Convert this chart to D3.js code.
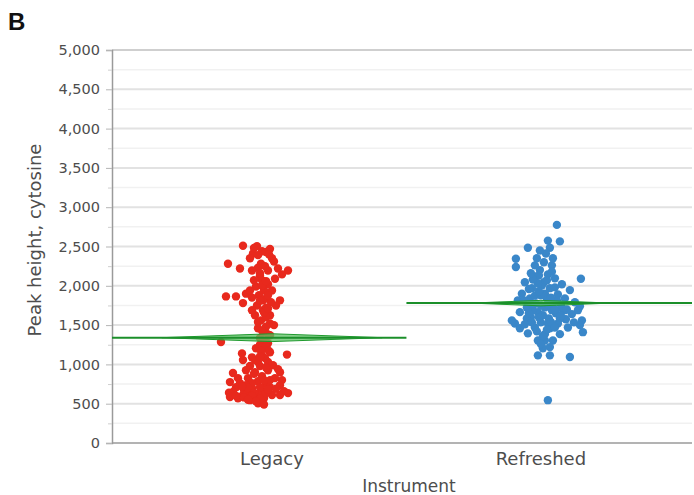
<!DOCTYPE html>
<html>
<head>
<meta charset="utf-8">
<script src="https://cdn.jsdelivr.net/npm/d3@7"></script>
<style>
  html, body { margin: 0; padding: 0; background: #fff; }
  svg { display: block; font-family: 'DejaVu Sans', sans-serif; }
</style>
</head>
<body>
<svg id="chart" width="694" height="495"></svg>
<script>
// Peak height of cytosine by instrument (JMP-style one-way plot with means diamonds)

const categories = ['Legacy', 'Refreshed']

// Legacy instrument: peak heights and horizontal jitter (unitless, -50..50)
const legacyValues = [
  2510, 2505, 2470, 2440, 2410, 2350, 2280, 2220, 2195, 2145, 2280, 2230, 2090, 2020,
  1865, 1865, 1900, 1780, 1815, 2130, 2070, 1990, 1940, 1880, 1840, 1750, 1690, 1625,
  1625, 1560, 1520, 1460, 1410, 1335, 1270, 1205, 2350, 2195, 2195, 2220, 1940, 1750,
  1690, 1500, 1720, 2070, 1790, 1815, 2390, 2430, 2310, 1940, 1370, 1285, 1115,
  1140, 1125, 1080, 1055, 990, 1030, 980, 925, 890, 900, 850, 900, 825, 775, 800, 760,
  785, 750, 710, 735, 710, 700, 675, 650, 660, 635, 610, 610, 600, 570, 570, 545, 505,
  620, 825, 980, 760, 635, 640, 660, 710, 800, 925, 825, 1055, 1030, 1205, 1155, 735,
  620, 490, 585, 610,
  1480, 1430, 1380, 1300, 1250, 1230, 1170, 1170, 1600, 1540, 1660, 1810, 1880, 2000,
  2060, 2160, 2250, 2400, 2480, 1850, 1710,
  880, 800, 700, 720, 560, 640, 680, 600, 580, 530, 960, 1090, 1100, 940, 690, 600, 550
]
const legacyJitter = [
  -29, -15, -2, -10, -19, -22, -44, -32, 16, 10, -11, -14, 3, -4,
  -46, -36, -26, -29, 8, -12, -10, -16, -8, -13, -6, -15, -9, -2,
  -17, -11, -2, -14, -7, -12, -4, -16, 0, -20, -4, 6, 0, 4,
  -20, 2, -6, -18, -1, -9, -14, -6, 2, -22, -2, -51, -10,
  -30, 15, -7, -29, 1, -14, -22, -4, -39, -17, -10, 8, -24, -42, 10, -32,
  -14, -6, -2, 8, -36, -20, -28, -39, -10, 16, 0, -29, -16, -8, -34, -22, -14,
  -25, 3, -12, -20, -6, -43, 12, -12, -2, -26, -34, -17, -4, -9, -2, -26,
  -14, -8, -42, 8,
  -6, -10, -4, -8, -12, -6, -3, -11, -6, -14, -8, -12, -4, -10,
  -6, -12, -7, -3, -18, -20, -4,
  -18, -8, -24, -30, -12, -18, -4, -20, -28, -16, -6, -20, -12, 6, 4, -36, -24
]

// Refreshed instrument
const refreshedValues = [
  2775, 2575, 2565, 2485, 2485, 2350, 2345, 2240, 2410, 2300, 2260, 2200, 2145, 2120,
  2095, 2090, 2045, 2045, 2020, 1970, 1970, 1945, 1900, 1900, 1890, 1840, 1840, 1840,
  1815, 1775, 1775, 1790, 1725, 1725, 1715, 1740, 1665, 1665, 1650, 1640, 1600, 1585,
  1575, 1520, 1535, 1520, 1560, 1460, 1470, 1460, 1470, 1410, 1395, 1385, 1385, 1305,
  1305, 1220, 1115, 1115, 1095, 545, 2005, 1875, 1690, 1625, 1585, 1585, 1900, 1815,
  1690, 1750, 1690, 1520, 1535, 1690, 1815, 2070, 2030, 1980, 1305, 1205, 1500, 1535,
  1560, 2260, 2450, 2350,
  1880, 1760, 1760, 1700, 1600, 1650, 1620, 1540, 1420, 1440, 1470, 1510, 1930, 1850,
  1960, 1760, 1700, 1360, 1260, 2130, 2080, 2180, 2160
]
const refreshedJitter = [
  16, 7, 19, -13, 9, -4, -25, -25, 5, 3, 11, -1, 7, -5,
  14, 40, -16, 3, 21, -9, 9, 29, -19, -1, 17, -11, 6, 24,
  -23, -5, 12, 34, -14, 4, 21, 39, -21, -3, 15, 31, -10, 8,
  25, -26, 0, 17, 41, -21, -6, 9, 27, 42, -13, 4, 19, -3,
  12, 9, -3, 9, 29, 7, 1, -6, 11, 2, 19, -14, 4, 16,
  -8, 0, 24, 7, -9, 37, -17, 6, -3, 14, 4, 2, 39, 33,
  -29, -6, -1, 12,
  0, 8, -8, 14, -2, -12, 20, 10, -4, 6, 14, -16, -2, 10,
  -12, 20, 26, 2, 0, -2, -8, 11, -10
]

// Group means and 95% confidence limits (means diamonds)
const means = [1340, 1780]
const ciLow = [1290, 1745]
const ciHigh = [1390, 1815]

const yTicks = [0, 500, 1000, 1500, 2000, 2500, 3000, 3500, 4000, 4500, 5000]
const yMinorTicks = [250, 750, 1250, 1750, 2250, 2750, 3250, 3750, 4250, 4750]

const colors = ['#e8291d', '#3a87c9']
const diamondHalfWidth = [0.41, 0.26]

const plot = { left: 112, right: 692, top: 50, bottom: 443 }

const svg = d3.select('#chart')

const y = d3.scaleLinear().domain([0, 5000]).range([plot.bottom, plot.top])
const x = d3.scaleLinear().domain([-0.595, 1.562]).range([plot.left, plot.right])
const jitter = d3.scaleLinear().domain([-50, 50]).range([-0.186, 0.186])

// Gridlines
svg.append('g')
  .selectAll('line.minor')
  .data(yMinorTicks)
  .enter()
  .append('line')
  .attr('x1', plot.left).attr('x2', plot.right)
  .attr('y1', d => y(d)).attr('y2', d => y(d))
  .attr('stroke', '#f1f1f1')
  .attr('stroke-width', 1.5)

svg.append('g')
  .selectAll('line.major')
  .data(yTicks.slice(1))
  .enter()
  .append('line')
  .attr('x1', plot.left).attr('x2', plot.right)
  .attr('y1', d => y(d)).attr('y2', d => y(d))
  .attr('stroke', d => d === 5000 ? '#cfcfcf' : '#e2e2e2')
  .attr('stroke-width', 2)

// Y axis
const yAxis = svg.append('g')
  .attr('transform', `translate(${plot.left},0)`)
  .call(d3.axisLeft(y).tickValues(yTicks).tickSize(6).tickPadding(6).tickFormat(d3.format(',')))
yAxis.select('.domain').attr('stroke', '#9a9a9a').attr('stroke-width', 1.5)
yAxis.selectAll('.tick line').attr('stroke', '#b5b5b5')
yAxis.selectAll('.tick text')
  .attr('fill', '#4d4d4d')
  .style('font-size', '14.5px')
  .style('font-family', "'DejaVu Sans', sans-serif")

svg.append('g')
  .attr('transform', `translate(${plot.left},0)`)
  .call(d3.axisLeft(y).tickValues(yMinorTicks).tickSize(4).tickFormat(''))
  .call(g => g.select('.domain').remove())
  .selectAll('.tick line').attr('stroke', '#cfcfcf')

// X axis
svg.append('line')
  .attr('x1', plot.left).attr('x2', plot.right)
  .attr('y1', plot.bottom).attr('y2', plot.bottom)
  .attr('stroke', '#9a9a9a')
  .attr('stroke-width', 1.5)

svg.selectAll('.cat-label')
  .data(categories)
  .enter()
  .append('text')
  .classed('cat-label', true)
  .attr('x', (d, i) => x(i))
  .attr('y', 465)
  .attr('text-anchor', 'middle')
  .attr('fill', '#4d4d4d')
  .style('font-size', '18px')
  .text(d => d)

// Points
const groups = [
  { values: legacyValues, jit: legacyJitter },
  { values: refreshedValues, jit: refreshedJitter }
]
groups.forEach((g, i) => {
  svg.append('g')
    .selectAll('circle')
    .data(g.values)
    .enter()
    .append('circle')
    .attr('cx', (d, k) => x(i + jitter(g.jit[k])))
    .attr('cy', d => y(d))
    .attr('r', 4.2)
    .attr('fill', colors[i])
})

// Means diamonds and mean lines
const lineExtent = [[-0.595, 0.5], [0.5, 1.562]]
categories.forEach((c, i) => {
  const w = diamondHalfWidth[i]
  const pts = [
    [x(i - w), y(means[i])],
    [x(i), y(ciHigh[i])],
    [x(i + w), y(means[i])],
    [x(i), y(ciLow[i])]
  ]
  svg.append('polygon')
    .attr('points', pts.map(p => p.join(',')).join(' '))
    .attr('fill', '#5cc063')
    .attr('fill-opacity', 0.75)
    .attr('stroke', '#1f9a2e')
    .attr('stroke-width', 1)
  svg.append('line')
    .attr('x1', x(lineExtent[i][0])).attr('x2', x(lineExtent[i][1]))
    .attr('y1', y(means[i])).attr('y2', y(means[i]))
    .attr('stroke', '#1b8f2a')
    .attr('stroke-width', 2)
})

// Axis titles
svg.append('text')
  .attr('transform', 'translate(41,240) rotate(-90)')
  .attr('text-anchor', 'middle')
  .attr('fill', '#4d4d4d')
  .style('font-size', '18px')
  .text('Peak height, cytosine')

svg.append('text')
  .attr('x', 409)
  .attr('y', 492)
  .attr('text-anchor', 'middle')
  .attr('fill', '#4d4d4d')
  .style('font-size', '17px')
  .text('Instrument')

// Panel letter
svg.append('text')
  .attr('x', 8)
  .attr('y', 30)
  .attr('fill', '#111')
  .style('font-size', '24px')
  .style('font-weight', 'bold')
  .style('font-family', "'Liberation Sans', Arial, sans-serif")
  .text('B')
</script>
</body>
</html>
